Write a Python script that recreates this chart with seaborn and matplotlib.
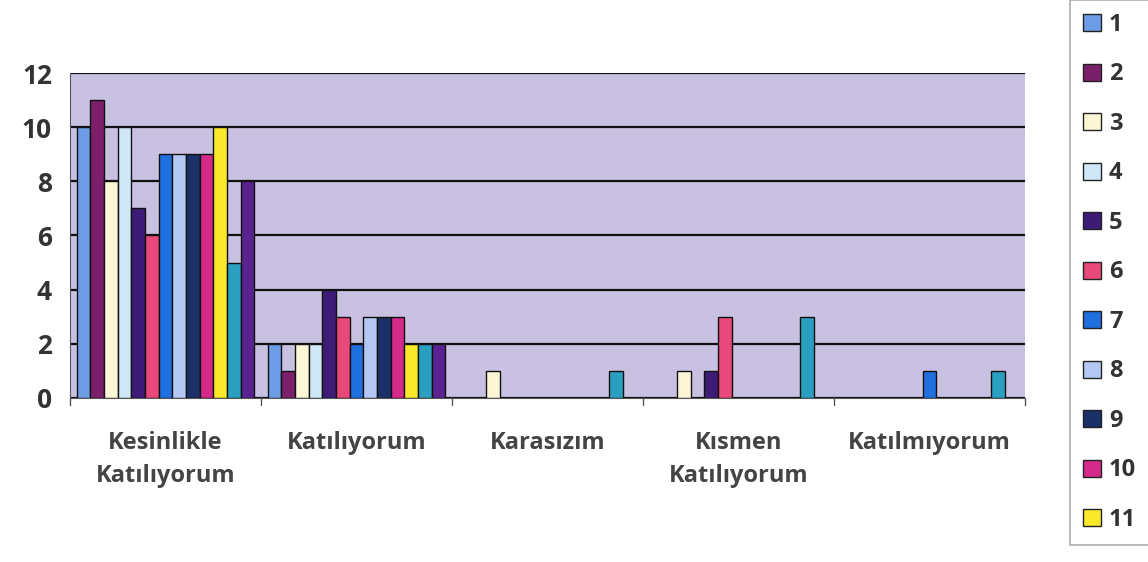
import matplotlib
matplotlib.use("Agg")
import matplotlib.pyplot as plt
import seaborn as sns
import pandas as pd
from matplotlib.patches import Patch

# kategoriler
categories = ["Kesinlikle\nKatılıyorum", "Katılıyorum", "Karasızım",
              "Kısmen\nKatılıyorum", "Katılmıyorum"]
series = [str(i) for i in range(1, 14)]

# her seri için kategori değerleri
values = {
    "1":  [10, 2, 0, 0, 0],
    "2":  [11, 1, 0, 0, 0],
    "3":  [8, 2, 1, 1, 0],
    "4":  [10, 2, 0, 0, 0],
    "5":  [7, 4, 0, 1, 0],
    "6":  [6, 3, 0, 3, 0],
    "7":  [9, 2, 0, 0, 1],
    "8":  [9, 3, 0, 0, 0],
    "9":  [9, 3, 0, 0, 0],
    "10": [9, 3, 0, 0, 0],
    "11": [10, 2, 0, 0, 0],
    "12": [5, 2, 1, 3, 1],
    "13": [8, 2, 0, 0, 0],
}

colors = ["#6d9ce6", "#7b1f6a", "#fbf6d6", "#cfe7f7", "#3f1b78", "#e8497a",
          "#1f6fdf", "#b3c9f3", "#1b2f68", "#d62a8a", "#fbe92c", "#2b9fbf",
          "#5a2290"]

rows = []
for s in series:
    for c, v in zip(categories, values[s]):
        rows.append({"kategori": c, "seri": s, "deger": v})
df = pd.DataFrame(rows)

sns.set_style("white")
plt.rcParams["font.family"] = ["Open Sans", "DejaVu Sans"]

fig = plt.figure(figsize=(11.48, 5.62), dpi=100)
ax = fig.add_axes([0.061, 0.292, 0.832, 0.578])
ax.set_facecolor("#c9c1e1")

sns.barplot(data=df, x="kategori", y="deger", hue="seri", palette=colors,
            saturation=1, width=0.93, edgecolor="#111111", linewidth=1.0,
            ax=ax, legend=False, zorder=3)

ax.set_ylim(0, 12)
ax.set_yticks(range(0, 13, 2))
ax.yaxis.grid(True, color="#111111", linewidth=1.6, zorder=0)
ax.set_axisbelow(True)
ax.set_xlim(-0.5, 4.5)
ax.set_xlabel("")
ax.set_ylabel("")
for side in ["top", "right"]:
    ax.spines[side].set_visible(False)
ax.spines["left"].set_color("#555555")
ax.spines["bottom"].set_color("#555555")
ax.tick_params(axis="y", labelsize=19, length=5, color="#555555", labelcolor="#333333", pad=8)
ax.tick_params(axis="x", labelsize=17, length=0, pad=24, labelcolor="#444444")
for lbl in ax.get_yticklabels() + ax.get_xticklabels():
    lbl.set_fontweight("bold")
    lbl.set_linespacing(1.5)

# kategori ayraçları
for x in [-0.5, 0.5, 1.5, 2.5, 3.5, 4.5]:
    ax.plot([x, x], [0, -0.25], color="#555555", lw=1, clip_on=False)

handles = [Patch(facecolor=colors[i], edgecolor="#222222", label=series[i])
           for i in range(11)]
leg = fig.legend(handles=handles, loc="upper left", bbox_to_anchor=(0.932, 1.0),
                 frameon=True, fancybox=False, fontsize=17, handlelength=0.75,
                 handleheight=0.75, labelspacing=1.08, borderpad=0.55,
                 handletextpad=0.35, borderaxespad=0)
leg.get_frame().set_edgecolor("#999999")
leg.get_frame().set_linewidth(1.2)
for t in leg.get_texts():
    t.set_fontweight("bold")
    t.set_color("#333333")

fig.savefig("out.png", dpi=100)
